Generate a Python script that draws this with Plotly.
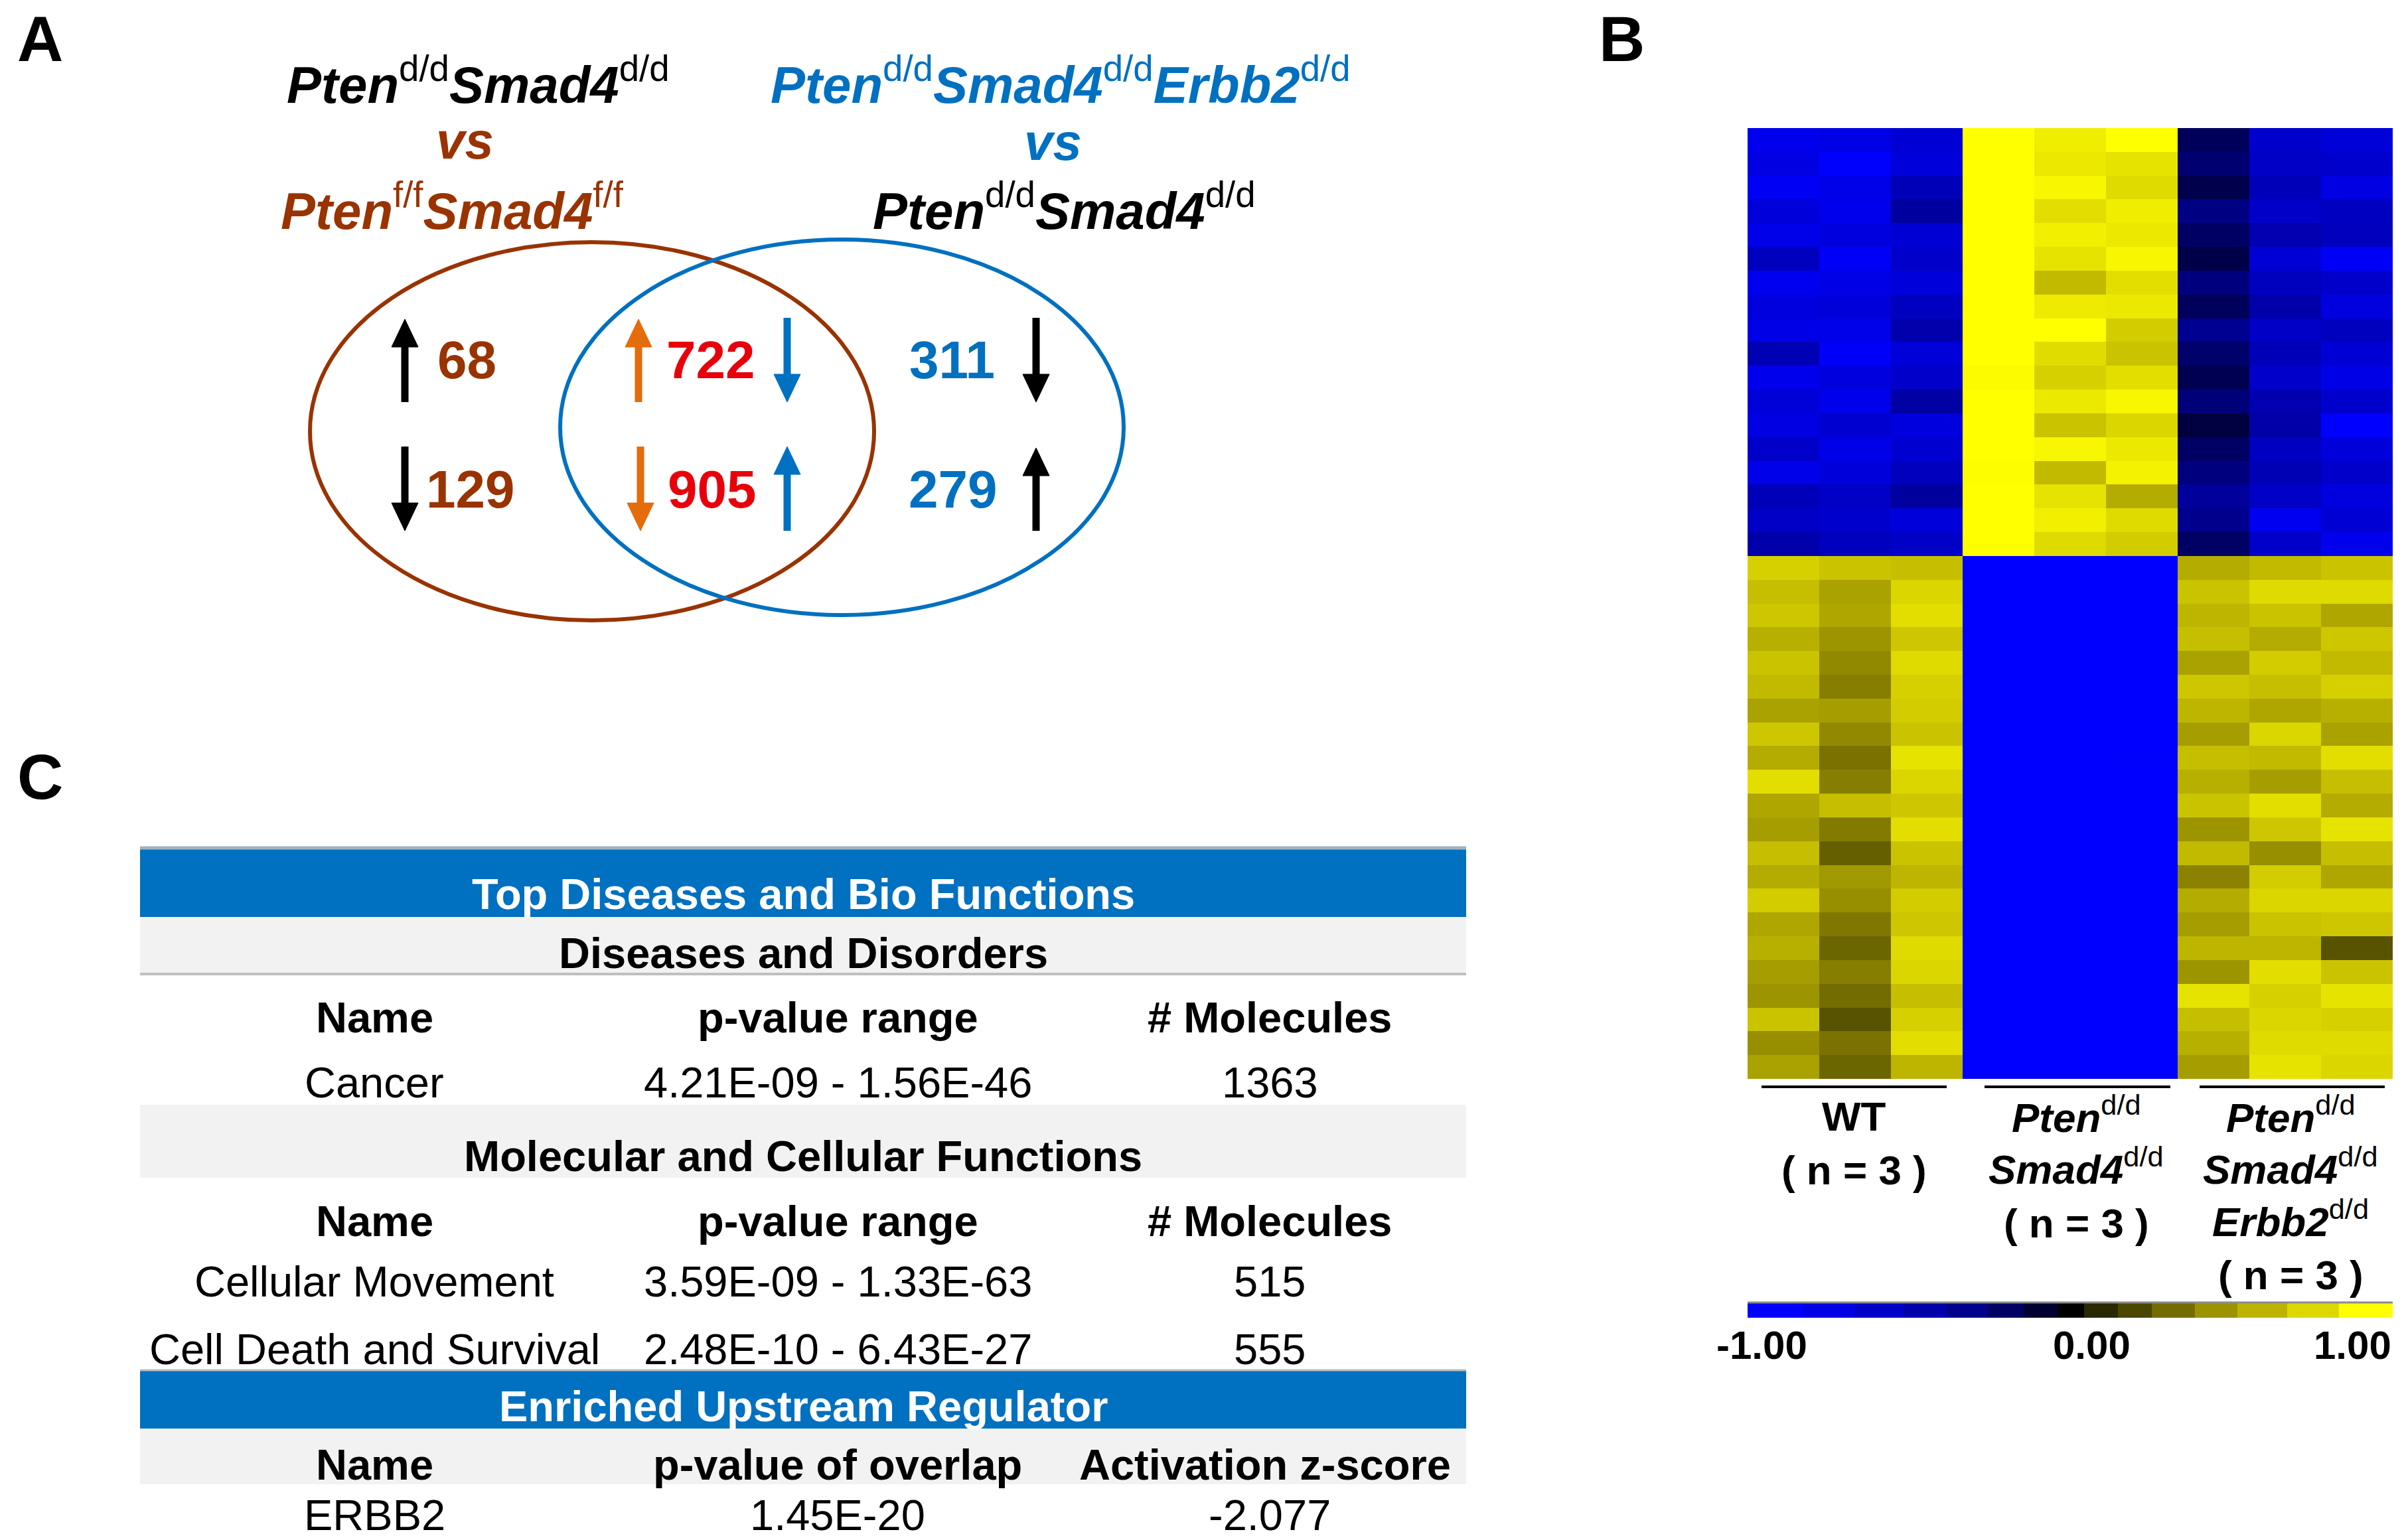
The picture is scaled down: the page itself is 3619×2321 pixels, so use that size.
import numpy as np
import plotly.graph_objects as go

W, H = 3619, 2321
FONT = "Liberation Sans, Arial, sans-serif"

# ---------------- DATA ----------------
# Panel A: Venn counts
venn_left = [68, 129]          # only Pten d/d Smad4 d/d vs Pten f/f Smad4 f/f (up, down)
venn_mid = [722, 905]          # overlap (up/down, down/up)
venn_right = [311, 279]        # only Erbb2 comparison (down, up)

# Panel B: heatmap (rows = gene bins, 9 samples)
sample_groups = ["WT", "Pten d/d Smad4 d/d", "Pten d/d Smad4 d/d Erbb2 d/d"]
wt1_u = [-0.80,-0.74,-0.85,-0.70,-0.78,-0.55,-0.82,-0.72,-0.76,-0.50,-0.80,-0.68,-0.74,-0.60,-0.78,-0.52,-0.58,-0.45]
wt2_u = [-0.76,-0.90,-0.78,-0.80,-0.72,-0.86,-0.76,-0.70,-0.78,-0.88,-0.72,-0.80,-0.64,-0.76,-0.70,-0.58,-0.62,-0.55]
wt3_u = [-0.66,-0.70,-0.52,-0.40,-0.66,-0.60,-0.70,-0.56,-0.46,-0.68,-0.60,-0.42,-0.72,-0.64,-0.54,-0.40,-0.70,-0.58]
pt1_u = [1.0,0.96,1.0,0.97,1.0,0.95,1.0,0.93,0.98,0.96,0.90,1.0,0.95,0.99,0.91,0.97,1.0,0.94]
pt2_u = [0.84,0.82,0.88,0.78,0.85,0.80,0.62,0.83,0.92,0.77,0.72,0.82,0.66,0.88,0.62,0.80,0.85,0.76]
pt3_u = [0.92,0.80,0.76,0.84,0.82,0.88,0.78,0.82,0.70,0.66,0.78,0.88,0.74,0.82,0.86,0.56,0.76,0.70]
eb1_u = [-0.18,-0.24,-0.15,-0.30,-0.20,-0.14,-0.28,-0.18,-0.34,-0.22,-0.16,-0.26,-0.12,-0.20,-0.28,-0.38,-0.32,-0.20]
eb2_u = [-0.62,-0.58,-0.52,-0.60,-0.48,-0.66,-0.55,-0.45,-0.58,-0.52,-0.60,-0.48,-0.44,-0.56,-0.50,-0.58,-0.82,-0.60]
eb3_u = [-0.68,-0.62,-0.74,-0.56,-0.54,-0.86,-0.60,-0.72,-0.55,-0.66,-0.76,-0.62,-0.92,-0.70,-0.60,-0.72,-0.66,-0.80]

wt1_l = [0.72,0.64,0.68,0.58,0.66,0.62,0.52,0.68,0.56,0.78,0.54,0.50,0.64,0.56,0.70,0.54,0.58,0.50,0.46,0.66,0.44,0.52]
wt2_l = [0.66,0.52,0.54,0.46,0.42,0.38,0.50,0.42,0.34,0.38,0.64,0.37,0.28,0.48,0.44,0.36,0.30,0.38,0.32,0.24,0.34,0.30]
wt3_l = [0.64,0.74,0.78,0.68,0.76,0.72,0.70,0.66,0.80,0.74,0.68,0.78,0.66,0.60,0.70,0.68,0.76,0.74,0.64,0.72,0.78,0.60]
pt1_l = [-1.0,-1.0,-0.97,-1.0,-0.96,-1.0,-0.97,-0.95,-1.0,-1.0,-0.96,-1.0,-0.97,-1.0,-1.0,-0.96,-1.0,-0.98,-1.0,-0.97,-0.96,-1.0]
pt2_l = [-1.0,-0.98,-1.0,-1.0,-0.97,-1.0,-1.0,-0.96,-1.0,-0.98,-1.0,-1.0,-0.96,-1.0,-0.98,-0.95,-1.0,-1.0,-0.97,-1.0,-0.96,-1.0]
pt3_l = [-1.0,-1.0,-0.96,-0.93,-1.0,-0.92,-1.0,-0.97,-0.90,-1.0,-0.98,-0.94,-1.0,-1.0,-0.96,-1.0,-0.93,-1.0,-0.97,-0.94,-1.0,-0.98]
eb1_l = [0.56,0.66,0.60,0.64,0.52,0.68,0.60,0.50,0.64,0.58,0.66,0.46,0.62,0.40,0.56,0.50,0.60,0.46,0.80,0.64,0.58,0.50]
eb2_l = [0.62,0.76,0.66,0.56,0.70,0.64,0.54,0.74,0.62,0.50,0.78,0.68,0.44,0.70,0.74,0.66,0.60,0.78,0.72,0.74,0.76,0.80]
eb3_l = [0.66,0.76,0.54,0.68,0.62,0.72,0.58,0.52,0.78,0.64,0.56,0.80,0.64,0.54,0.74,0.68,0.24,0.66,0.80,0.72,0.76,0.74]

# colour key steps (edges in value units) and their colours
cb_edges = [-1.0,-0.829,-0.669,-0.514,-0.383,-0.257,-0.144,-0.039,0.043,0.148,0.253,0.387,0.519,0.673,0.833,1.0]
cb_colors = [(0,0,255),(0,0,228),(0,0,200),(0,0,170),(0,0,140),(0,0,100),(0,0,50),(0,0,0),
             (42,40,0),(75,70,0),(115,108,0),(155,147,0),(188,180,0),(222,216,0),(255,255,0)]
cb_ticks = ["-1.00", "0.00", "1.00"]

# Panel C: table
dd_header = ["Name", "p-value range", "# Molecules"]
dd_rows = [["Cancer", "4.21E-09 - 1.56E-46", "1363"]]
mc_header = ["Name", "p-value range", "# Molecules"]
mc_rows = [["Cellular Movement", "3.59E-09 - 1.33E-63", "515"],
           ["Cell Death and Survival", "2.48E-10 - 6.43E-27", "555"]]
ur_header = ["Name", "p-value of overlap", "Activation z-score"]
ur_rows = [["ERBB2", "1.45E-20", "-2.077"]]

# ---------------- STYLE ----------------
BROWN = "#993300"
BLUE = "#0070C0"
RED = "#E8000B"
ORANGE = "#E46C0A"
TBLUE = "#0070C0"
TGRAY = "#F2F2F2"

fig = go.Figure()

# base pixel-coordinate axes
fig.add_trace(go.Scatter(x=[0], y=[0], mode="markers", marker=dict(opacity=0),
                         hoverinfo="skip", showlegend=False, xaxis="x", yaxis="y"))

# ---------- heatmap ----------
cols = [wt1_u + wt1_l, wt2_u + wt2_l, wt3_u + wt3_l,
        pt1_u + pt1_l, pt2_u + pt2_l, pt3_u + pt3_l,
        eb1_u + eb1_l, eb2_u + eb2_l, eb3_u + eb3_l]
Z = np.array(cols).T

mids = [(cb_edges[i] + cb_edges[i + 1]) / 2 for i in range(len(cb_colors))]
colorscale = [[0.0, "rgb(%d,%d,%d)" % cb_colors[0]]]
for m, c in zip(mids, cb_colors):
    colorscale.append([(m + 1) / 2, "rgb(%d,%d,%d)" % c])
colorscale.append([1.0, "rgb(%d,%d,%d)" % cb_colors[-1]])

fig.add_trace(go.Heatmap(z=Z, x=list(range(9)), y=list(range(Z.shape[0])),
                         colorscale=colorscale, zmin=-1, zmax=1, showscale=False,
                         zsmooth=False, xaxis="x2", yaxis="y2", hoverinfo="skip"))

# colour key as a row of steps
fig.add_trace(go.Heatmap(z=[mids], x=cb_edges, y=[0], colorscale=colorscale,
                         zmin=-1, zmax=1, showscale=False, zsmooth=False,
                         xaxis="x3", yaxis="y3", hoverinfo="skip"))

hx0, hx1, hy0, hy1 = 2633, 3605, 193, 1626
cx0, cx1, cy0, cy1 = 2633, 3605, 1963, 1986

fig.update_layout(
    width=W, height=H, margin=dict(l=0, r=0, t=0, b=0),
    paper_bgcolor="white", plot_bgcolor="rgba(0,0,0,0)", showlegend=False,
    xaxis=dict(domain=[0, 1], range=[0, W], visible=False, fixedrange=True),
    yaxis=dict(domain=[0, 1], range=[H, 0], visible=False, fixedrange=True),
    xaxis2=dict(domain=[hx0 / W, hx1 / W], range=[-0.5, 8.5], visible=False, anchor="y2"),
    yaxis2=dict(domain=[1 - hy1 / H, 1 - hy0 / H], range=[Z.shape[0] - 0.5, -0.5],
                visible=False, anchor="x2"),
    xaxis3=dict(domain=[cx0 / W, cx1 / W], range=[-1, 1], visible=False, anchor="y3"),
    yaxis3=dict(domain=[1 - cy1 / H, 1 - cy0 / H], range=[-0.5, 0.5], visible=False, anchor="x3"),
)

shapes = []
ann = []


def text(x, y, t, size, color="black", xanchor="center", yanchor="middle", bold=False, italic=False):
    if bold:
        t = "<b>" + t + "</b>"
    if italic:
        t = "<i>" + t + "</i>"
    ann.append(dict(x=x, y=y, xref="x", yref="y", text=t, showarrow=False,
                    xanchor=xanchor, yanchor=yanchor,
                    font=dict(family=FONT, size=size, color=color)))


def bi(s):
    return "<b><i>" + s + "</i></b>"


def sup(s):
    return "<sup>" + s + "</sup>"


# ---------- panel letters ----------
text(60, 58, "A", 96, bold=True)
text(2443, 58, "B", 96, bold=True)
text(60, 1170, "C", 96, bold=True)

# ---------- panel A titles ----------
TS = 78
text(720, 122, bi("Pten") + sup("d/d") + bi("Smad4") + sup("d/d"), TS)
text(700, 212, bi("vs"), TS, color=BROWN)
text(681, 312, bi("Pten") + sup("f/f") + bi("Smad4") + sup("f/f"), TS, color=BROWN)
text(1598, 122, bi("Pten") + sup("d/d") + bi("Smad4") + sup("d/d") + bi("Erbb2") + sup("d/d"), TS, color=BLUE)
text(1586, 214, bi("vs"), TS, color=BLUE)
text(1603, 312, bi("Pten") + sup("d/d") + bi("Smad4") + sup("d/d"), TS)

# ---------- Venn ellipses ----------
shapes.append(dict(type="circle", xref="x", yref="y", x0=467, x1=1317, y0=365, y1=935,
                   line=dict(color=BROWN, width=6)))
shapes.append(dict(type="circle", xref="x", yref="y", x0=844, x1=1693, y0=361, y1=927,
                   line=dict(color=BLUE, width=6)))

# numbers
NS = 80
text(703, 542, "<b>%d</b>" % venn_left[0], NS, color=BROWN)
text(708, 737, "<b>%d</b>" % venn_left[1], NS, color=BROWN)
text(1070, 542, "<b>%d</b>" % venn_mid[0], NS, color=RED)
text(1072, 737, "<b>%d</b>" % venn_mid[1], NS, color=RED)
text(1434, 542, "<b>%d</b>" % venn_right[0], NS, color=BLUE)
text(1435, 737, "<b>%d</b>" % venn_right[1], NS, color=BLUE)

# arrows: (x, tail_y, tip_y, color)
arrows = [(610, 606, 481, "black"), (610, 673, 800, "black"),
          (962, 606, 481, ORANGE), (965, 673, 800, ORANGE),
          (1186, 479, 606, BLUE), (1186, 800, 673, BLUE),
          (1561, 479, 606, "black"), (1561, 800, 675, "black")]
HW, HH, SW = 20, 42, 11
for x, yt, yp, c in arrows:
    d = 1 if yp > yt else -1
    base = yp - d * HH
    shapes.append(dict(type="line", xref="x", yref="y", x0=x, x1=x, y0=yt, y1=base + d * 2,
                       line=dict(color=c, width=SW)))
    shapes.append(dict(type="path", xref="x", yref="y",
                       path="M %f %f L %f %f L %f %f Z" % (x - HW, base, x + HW, base, x, yp),
                       fillcolor=c, line=dict(color=c, width=1)))

# ---------- panel B labels ----------
LS = 62
group_lines = [(2654, 2933), (2990, 3270), (3314, 3593)]
for a, b in group_lines:
    shapes.append(dict(type="line", xref="x", yref="y", x0=a, x1=b, y0=1638, y1=1638,
                       line=dict(color="black", width=4)))
g1, g2, g3 = 2793, 3128, 3451
text(g1, 1682, "<b>WT</b>", LS)
text(g1, 1763, "<b>( n = 3 )</b>", LS)
text(g2, 1680, bi("Pten") + sup("d/d"), LS)
text(g2, 1758, bi("Smad4") + sup("d/d"), LS)
text(g2, 1843, "<b>( n = 3 )</b>", LS)
text(g3, 1680, bi("Pten") + sup("d/d"), LS)
text(g3, 1758, bi("Smad4") + sup("d/d"), LS)
text(g3, 1837, bi("Erbb2") + sup("d/d"), LS)
text(g3, 1921, "<b>( n = 3 )</b>", LS)

# colour key border line and ticks
shapes.append(dict(type="line", xref="x", yref="y", x0=cx0, x1=cx1, y0=cy0, y1=cy0,
                   line=dict(color="#8C8C8C", width=3)))
text(2584, 2027, "<b>%s</b>" % cb_ticks[0], 60, xanchor="left")
text(3151, 2027, "<b>%s</b>" % cb_ticks[1], 60)
text(3605, 2027, "<b>%s</b>" % cb_ticks[2], 60, xanchor="right")

# ---------- panel C table ----------
tx0, tx1 = 211, 2209
tcx = (tx0 + tx1) / 2
col_x = [564, 1262, 1913]
FS = 65


def band(y0, y1, color):
    shapes.append(dict(type="rect", xref="x", yref="y", x0=tx0, x1=tx1, y0=y0, y1=y1,
                       fillcolor=color, line=dict(width=0), layer="below"))


band(1280, 1382, TBLUE)
band(1382, 1467, TGRAY)
band(1665, 1775, TGRAY)
band(2066, 2153, TBLUE)
band(2153, 2237, TGRAY)
shapes.append(dict(type="line", xref="x", yref="y", x0=tx0, x1=tx1, y0=1278, y1=1278,
                   line=dict(color="#9DB3C2", width=5)))
shapes.append(dict(type="line", xref="x", yref="y", x0=tx0, x1=tx1, y0=1468, y1=1468,
                   line=dict(color="#BFBFBF", width=4)))
shapes.append(dict(type="line", xref="x", yref="y", x0=tx0, x1=tx1, y0=2065, y1=2065,
                   line=dict(color="#BFBFBF", width=3)))

text(tcx, 1347, "<b>Top Diseases and Bio Functions</b>", FS, color="white")
text(tcx, 1436, "<b>Diseases and Disorders</b>", FS)
for i, h in enumerate(dd_header):
    text(col_x[i], 1533, "<b>%s</b>" % h, FS)
for r, row in enumerate(dd_rows):
    for i, v in enumerate(row):
        text(col_x[i], 1631 + r * 100, v, FS)
text(tcx, 1742, "<b>Molecular and Cellular Functions</b>", FS)
for i, h in enumerate(mc_header):
    text(col_x[i], 1840, "<b>%s</b>" % h, FS)
for r, row in enumerate(mc_rows):
    for i, v in enumerate(row):
        text(col_x[i], 1931 + r * 102, v, FS)
text(tcx, 2119, "<b>Enriched Upstream Regulator</b>", FS, color="white")
for i, h in enumerate(ur_header):
    text(col_x[i] - (7 if i == 2 else 0), 2207, "<b>%s</b>" % h, FS)
for r, row in enumerate(ur_rows):
    for i, v in enumerate(row):
        text(col_x[i], 2283 + r * 100, v, FS)

fig.update_layout(shapes=shapes, annotations=ann)
fig.write_html("out.html", config={"displayModeBar": False},
               post_script="document.body.style.margin='0';document.body.style.overflow='hidden';")
